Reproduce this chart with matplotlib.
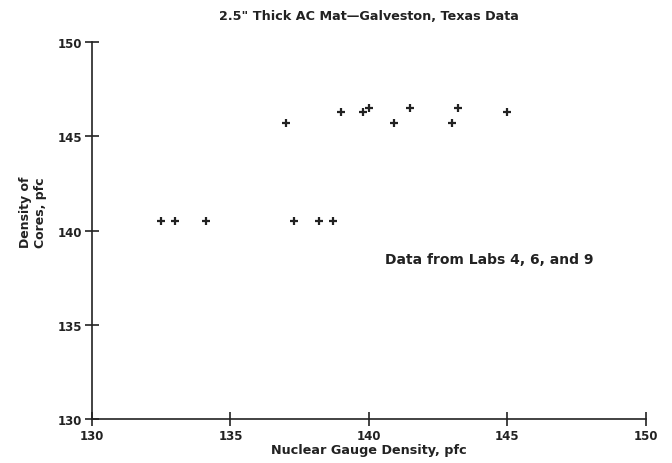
import matplotlib
matplotlib.use("Agg")
import matplotlib.pyplot as plt

# nuclear gauge density vs core density, pfc
gauge = [132.5, 133.0, 134.1, 137.0, 137.3, 138.2, 138.7, 139.0, 139.8,
         140.0, 140.9, 141.5, 143.0, 143.2, 145.0]
cores = [140.5, 140.5, 140.5, 145.7, 140.5, 140.5, 140.5, 146.3, 146.3,
         146.5, 145.7, 146.5, 145.7, 146.5, 146.3]
ticks = [130, 135, 140, 145, 150]

ink = "#222222"
plt.rcParams["font.family"] = "DejaVu Sans"
plt.rcParams["font.weight"] = "bold"

fig = plt.figure(figsize=(6.72, 4.64), dpi=100)
ax = fig.add_axes([0.137, 0.095, 0.824, 0.812])

ax.plot(gauge, cores, linestyle="none", marker="+", markersize=5.5,
        markeredgewidth=1.6, color=ink)

ax.set_xlim(130, 150)
ax.set_ylim(130, 150)
ax.set_xticks(ticks)
ax.set_yticks(ticks)
ax.spines["top"].set_visible(False)
ax.spines["right"].set_visible(False)
for s in ("left", "bottom"):
    ax.spines[s].set_color(ink)
    ax.spines[s].set_linewidth(1.2)
ax.tick_params(direction="inout", length=10, width=1.2, colors=ink,
               labelsize=8.5, pad=2)

ax.set_title('2.5" Thick AC Mat\u2014Galveston, Texas Data', fontsize=9.2,
             fontweight="bold", color=ink, pad=17)
ax.set_xlabel("Nuclear Gauge Density, pfc", fontsize=9.2, fontweight="bold",
              color=ink, labelpad=1)
ax.set_ylabel("Density of\nCores, pfc", fontsize=9, fontweight="bold",
              color=ink)
ax.yaxis.set_label_coords(-0.082, 0.55)
ax.text(140.58, 138.3, "Data from Labs 4, 6, and 9", fontsize=10,
        fontweight="bold", color=ink)

fig.savefig("out.png", dpi=100)
